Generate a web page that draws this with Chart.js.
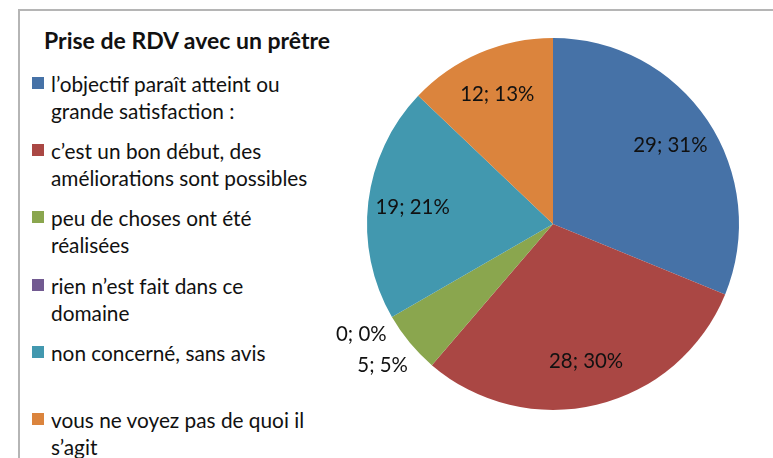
<!DOCTYPE html>
<html>
<head>
<meta charset="utf-8">
<script src="https://cdn.jsdelivr.net/npm/chart.js@4.4.1/dist/chart.umd.min.js"></script>
<style>
  html, body { margin: 0; padding: 0; background: #fff; }
  #wrap { position: relative; width: 773px; height: 458px; overflow: hidden; font-family: Lato, sans-serif; color: #111; }
  #frame { position: absolute; left: 18px; top: 9px; right: -5px; bottom: -5px; border-top: 2px solid #b5b5b5; border-left: 2px solid #b5b5b5; }
  #title { position: absolute; left: 44px; top: 27px; font-size: 23px; line-height: 27px; font-weight: bold; white-space: nowrap; }
  #legend { position: absolute; left: 0; top: 0; }
  .item { position: absolute; left: 32px; font-size: 20.8px; line-height: 27px; white-space: nowrap; }
  .item .box { position: absolute; left: 0; top: 7px; width: 12px; height: 12px; }
  .item .txt { position: absolute; left: 19px; top: 0; }
  canvas { position: absolute; left: 0; top: 0; }
</style>
</head>
<body>
<div id="wrap">
  <div id="frame"></div>
  <div id="title">Prise de RDV avec un prêtre</div>
  <div id="legend"></div>
  <canvas id="pie" width="773" height="458"></canvas>
</div>
<script>
// données
const categories = [
    ['l’objectif paraît atteint ou', 'grande satisfaction :'],
    ['c’est un bon début, des', 'améliorations sont possibles'],
    ['peu de choses ont été', 'réalisées'],
    ['rien n’est fait dans ce', 'domaine'],
    ['non concerné, sans avis'],
    ['vous ne voyez pas de quoi il', 's’agit']
];
const values = [29, 28, 5, 0, 19, 12];
const percentLabels = ['31%', '30%', '5%', '0%', '21%', '13%'];
const colors = ['#4672A7', '#AA4744', '#8AA64E', '#725A91', '#4298AF', '#DB843D'];

// légende HTML
const legendEl = document.getElementById('legend');
categories.forEach((lines, i) => {
    const item = document.createElement('div');
    item.className = 'item';
    item.style.top = (70 + i * 67.2) + 'px';
    item.innerHTML = '<div class="box" style="background:' + colors[i] + '"></div>' +
        '<div class="txt">' + lines.join('<br>') + '</div>';
    legendEl.appendChild(item);
});

// étiquettes "valeur; pourcentage" sur les parts
const sliceLabels = {
    id: 'sliceLabels',
    afterDatasetsDraw(chart) {
        const ctx = chart.ctx;
        const meta = chart.getDatasetMeta(0);
        const total = values.reduce((a, b) => a + b, 0);
        ctx.save();
        ctx.font = '20.4px Lato, sans-serif';
        ctx.fillStyle = '#111';
        ctx.textAlign = 'center';
        ctx.textBaseline = 'middle';
        meta.data.forEach((arc, i) => {
            const p = arc.getProps(['x', 'y', 'startAngle', 'endAngle', 'outerRadius'], true);
            const mid = (p.startAngle + p.endAngle) / 2;
            const small = values[i] / total < 0.08;
            const dist = small ? p.outerRadius * 1.19 : p.outerRadius * 0.76;
            const x = p.x + Math.cos(mid) * dist;
            const y = p.y + Math.sin(mid) * dist;
            ctx.fillText(values[i] + '; ' + percentLabels[i], x, y);
        });
        ctx.restore();
    }
};

new Chart(document.getElementById('pie'), {
    type: 'pie',
    data: {
        labels: categories.map(l => l.join(' ')),
        datasets: [{ data: values, backgroundColor: colors, borderWidth: 0 }]
    },
    options: {
        responsive: false,
        animation: false,
        layout: { padding: { left: 367, right: 34, top: 38, bottom: 48 } },
        plugins: { legend: { display: false }, tooltip: { enabled: false } }
    },
    plugins: [sliceLabels]
});
</script>
</body>
</html>
